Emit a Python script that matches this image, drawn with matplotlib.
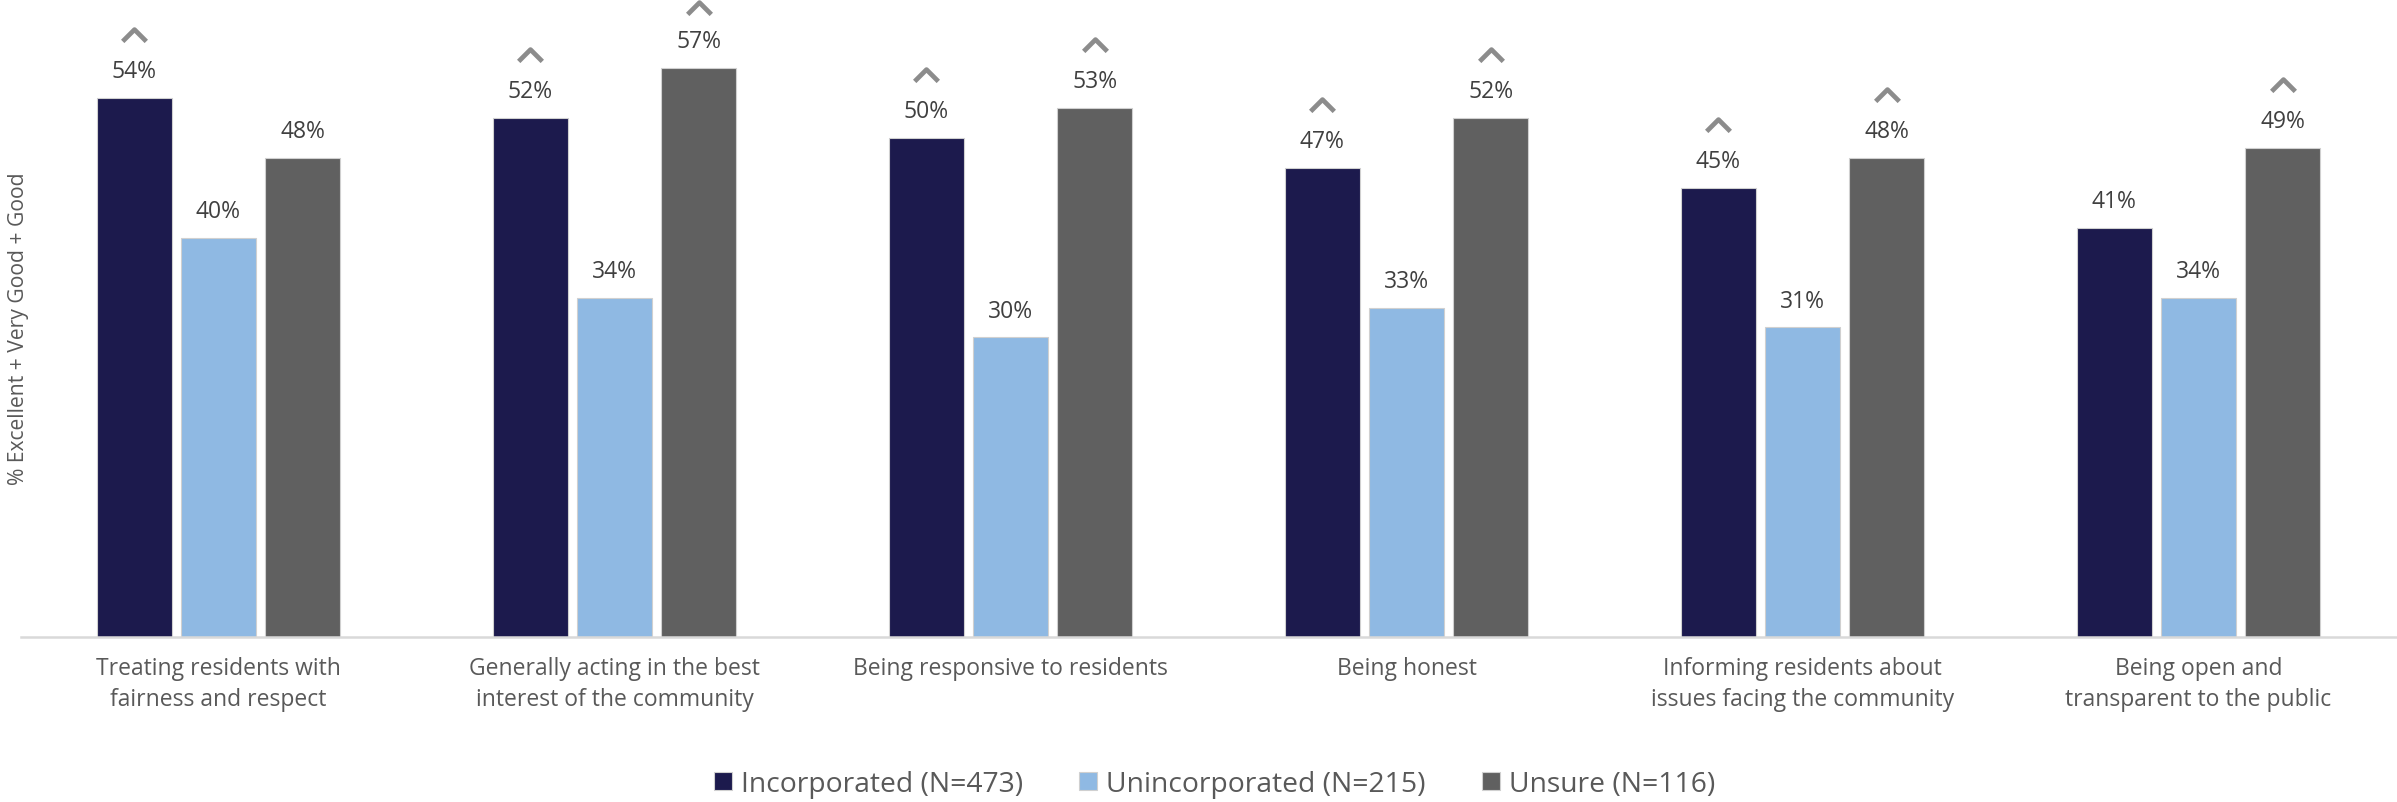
import matplotlib
matplotlib.use("Agg")
import matplotlib.pyplot as plt
import numpy as np
from matplotlib.path import Path

categories = [
    "Treating residents with\nfairness and respect",
    "Generally acting in the best\ninterest of the community",
    "Being responsive to residents",
    "Being honest",
    "Informing residents about\nissues facing the community",
    "Being open and\ntransparent to the public",
]
series_names = ["Incorporated (N=473)", "Unincorporated (N=215)", "Unsure (N=116)"]
incorporated = [54, 52, 50, 47, 45, 41]
unincorporated = [40, 34, 30, 33, 31, 34]
unsure = [48, 57, 53, 52, 48, 49]
# significance markers (^) per series
sig_incorporated = [True, True, True, True, True, False]
sig_unincorporated = [False] * 6
sig_unsure = [False, True, True, True, True, True]

colors = ["#1c1a4d", "#8fb9e3", "#606060"]
label_color = "#404040"
tick_color = "#595959"
caret_color = "#8c8c8c"

plt.rcParams["font.family"] = ["Open Sans", "DejaVu Sans"]

fig = plt.figure(figsize=(23.97, 8.03), dpi=100)
ax = fig.add_axes([20.5 / 2397, 165 / 803, 2376 / 2397, 638 / 803])

x = np.arange(len(categories))
width = 0.189
offsets = [-0.213, 0.0, 0.213]
all_series = [incorporated, unincorporated, unsure]
all_sig = [sig_incorporated, sig_unincorporated, sig_unsure]
ytop = 63.9

chevron = Path([(-1, -0.5), (0, 0.5), (1, -0.5)], [Path.MOVETO, Path.LINETO, Path.LINETO])

handles = []
for vals, sig, off, col, name in zip(all_series, all_sig, offsets, colors, series_names):
    b = ax.bar(x + off, vals, width, color=col, edgecolor="#d0d0d0", linewidth=0.8, label=name)
    handles.append(b)
    for xi, v, s in zip(x + off, vals, sig):
        ax.text(xi, v + 2.7, f"{v}%", ha="center", va="center", fontsize=16.5, color=label_color)
        if s:
            ax.plot([xi], [min(v + 6.3, ytop - 0.9)], marker=chevron, markersize=17,
                    markeredgewidth=3.4, color=caret_color, fillstyle="none",
                    linestyle="none", clip_on=False)

ax.set_xlim(-0.5, len(categories) - 0.5)
ax.set_ylim(0, ytop)
ax.set_yticks([])
ax.set_xticks(x)
ax.set_xticklabels(categories, fontsize=16.5, color=tick_color, linespacing=1.35)
ax.tick_params(axis="x", length=0, pad=14)
for s in ["top", "right", "left"]:
    ax.spines[s].set_visible(False)
ax.spines["bottom"].set_color("#d9d9d9")
ax.spines["bottom"].set_linewidth(1.8)

fig.text(19 / 2397, 1 - 329 / 803, "% Excellent + Very Good + Good", rotation=90,
         ha="center", va="center", fontsize=15.2, color=tick_color)

leg = fig.legend(handles=handles, labels=series_names, loc="center",
                 bbox_to_anchor=(1214.5 / 2397, 1 - 785 / 803), ncol=3, frameon=False,
                 fontsize=20.3, handlelength=0.64, handleheight=0.64, handletextpad=0.32,
                 columnspacing=2.0)
for t in leg.get_texts():
    t.set_color(tick_color)

fig.savefig("out.png", dpi=100)
